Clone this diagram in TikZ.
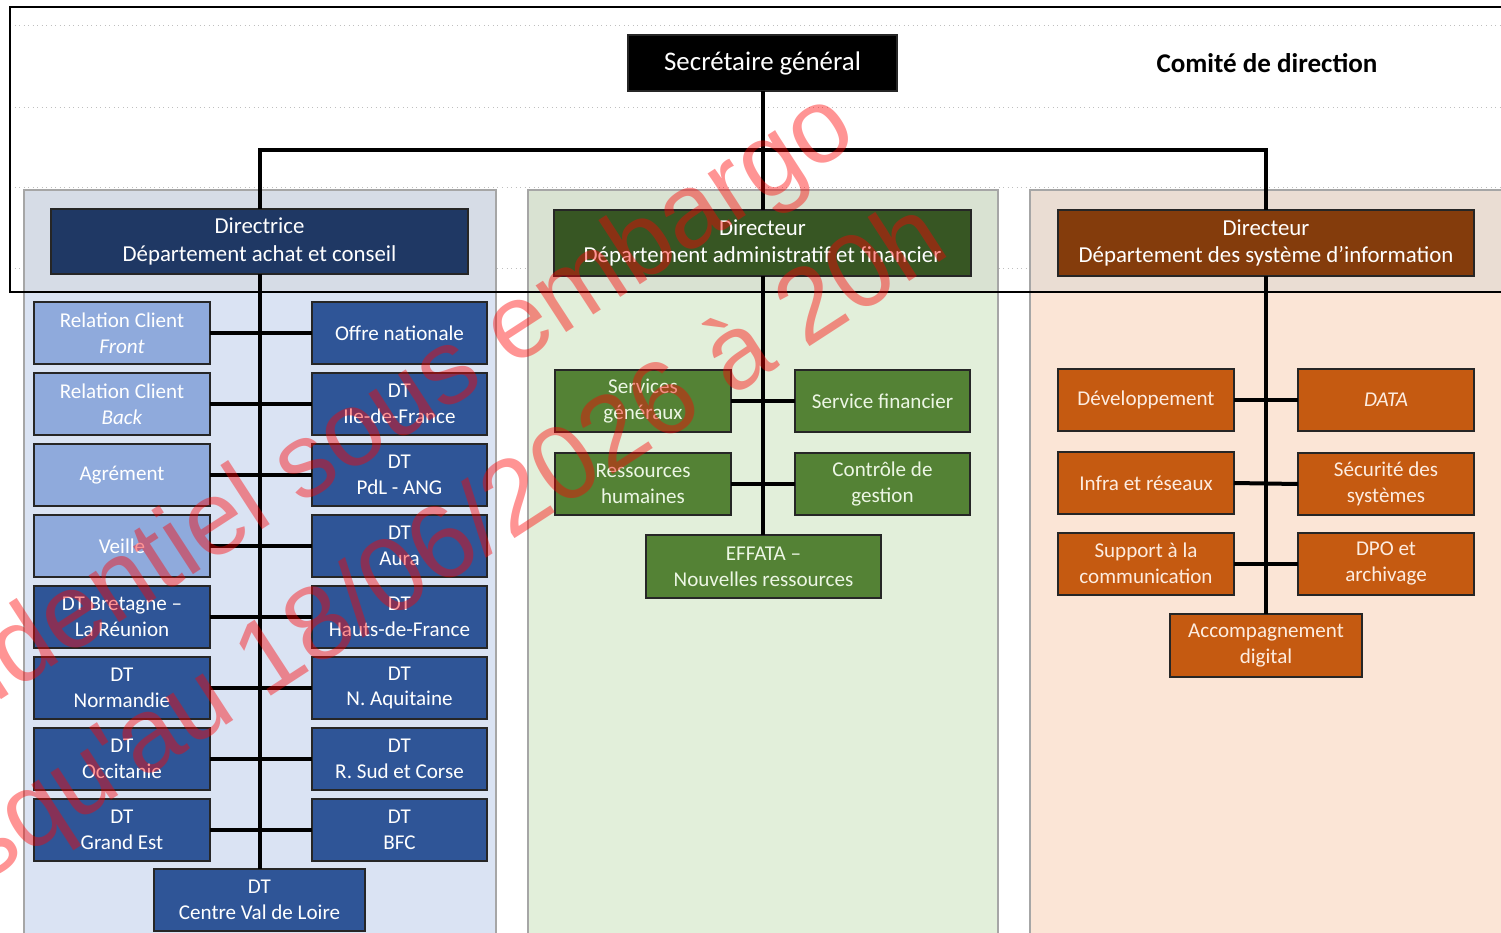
\documentclass[tikz,border=0pt]{standalone}
\usepackage{fontspec}
\setmainfont{Carlito}
\newfontfamily\wmfont{Liberation Sans}
\usetikzlibrary{calc}

\definecolor{navy}{RGB}{31,56,100}
\definecolor{midblue}{RGB}{47,85,151}
\definecolor{lightblue}{RGB}{143,170,220}
\definecolor{darkgreen}{RGB}{55,86,35}
\definecolor{midgreen}{RGB}{84,130,53}
\definecolor{darkorange}{RGB}{132,60,12}
\definecolor{midorange}{RGB}{197,90,17}
\definecolor{greentext}{RGB}{236,246,228}
\definecolor{orangetext}{RGB}{253,236,224}
\definecolor{bluepanel}{RGB}{218,227,243}
\definecolor{bluepaneltop}{RGB}{214,220,230}
\definecolor{greenpanel}{RGB}{226,239,218}
\definecolor{greenpaneltop}{RGB}{217,226,210}
\definecolor{orangepanel}{RGB}{251,229,214}
\definecolor{orangepaneltop}{RGB}{234,221,211}

\tikzset{
	orgbox/.style={draw=black!85, line width=0.4mm, inner sep=0pt, outer sep=0pt, align=center,
		minimum width=3.52cm, minimum height=1.24cm, font=\fontsize{12}{14.6}\selectfont},
	lightunit/.style={orgbox, fill=lightblue, text=white},
	blueunit/.style={orgbox, fill=midblue, text=white},
	greenunit/.style={orgbox, fill=midgreen, text=greentext},
	orangeunit/.style={orgbox, fill=midorange, text=orangetext},
	dirbox/.style={orgbox, text=white, minimum width=8.34cm, minimum height=1.32cm,
		font=\fontsize{13}{15.9}\selectfont},
	wire/.style={line width=0.8mm},
	panel/.style={draw=black!35, line width=0.3mm},
	cellline/.style={draw=black!25, dotted, line width=0.2mm},
	stamp/.style={rotate=33, text=red, opacity=0.42, font=\wmfont\fontsize{60}{76}\selectfont}
}

\begin{document}
\begin{tikzpicture}[x=0.02cm, y=-0.02cm]
	%%%%% START %%%%%
	\useasboundingbox (0,0) rectangle (1501,933);
	\clip (0,0) rectangle (1501,933);
	
	\draw[cellline] (10,25) -- (1501,25);
	\draw[cellline] (10,107) -- (1501,107);
	\draw[cellline] (10,187) -- (1501,187);
	\draw[cellline] (10,268) -- (1501,268);
	
	% the three departments
	\fill[bluepanel] (24,292) rectangle (496,945);
	\fill[bluepaneltop] (24,190) rectangle (496,292);
	\draw[panel] (24,190) rectangle (496,945);
	\fill[greenpanel] (528,292) rectangle (998,945);
	\fill[greenpaneltop] (528,190) rectangle (998,292);
	\draw[panel] (528,190) rectangle (998,945);
	\fill[orangepanel] (1030,292) rectangle (1510,945);
	\fill[orangepaneltop] (1030,190) rectangle (1510,292);
	\draw[panel] (1030,190) rectangle (1510,945);
	
	\draw[line width=0.35mm] (1510,7) -- (10,7) -- (10,292) -- (1510,292);
	
	\node[orgbox, fill=black, text=white, minimum width=5.38cm, minimum height=1.12cm,
		font=\fontsize{15.3}{18}\selectfont] (sg) at (762.5,63) {Secrétaire général};
	\node[font=\bfseries\fontsize{15.4}{18}\selectfont] (comite) at (1267,63) {Comité de direction};
	
	\node[dirbox, fill=navy] (dirAC) at (259.5,241.5) {Directrice\\Département achat et conseil};
	\node[dirbox, fill=darkgreen] (dirAF) at (762.5,243) {Directeur\\Département administratif et financier};
	\node[dirbox, fill=darkorange] (dirSI) at (1266,243) {Directeur\\Département des système d’information};
	
	\coordinate (bus) at (762.5,150);
	\draw[wire] (sg.south) -- (bus);
	\draw[wire] (dirAC.north) |- (bus) -| (dirSI.north);
	\draw[wire] (bus) -- (dirAF.north);
	
	% achat et conseil
	\node[lightunit] (front) at (122,333) {Relation Client\\\textit{Front}};
	\node[lightunit] (back) at (122,404) {Relation Client\\\textit{Back}};
	\node[lightunit] (agrement) at (122,475) {Agrément};
	\node[lightunit] (veille) at (122,546) {Veille};
	\node[blueunit] (bretagne) at (122,617) {DT Bretagne --\\La Réunion};
	\node[blueunit] (normandie) at (122,688) {DT\\Normandie};
	\node[blueunit] (occitanie) at (122,759) {DT\\Occitanie};
	\node[blueunit] (grandest) at (122,830) {DT\\Grand Est};
	\node[blueunit] (offre) at (399.5,333) {Offre nationale};
	\node[blueunit] (idf) at (399.5,404) {DT\\Ile-de-France};
	\node[blueunit] (pdl) at (399.5,475) {DT\\PdL - ANG};
	\node[blueunit] (aura) at (399.5,546) {DT\\Aura};
	\node[blueunit] (hdf) at (399.5,617) {DT\\Hauts-de-France};
	\node[blueunit] (naq) at (399.5,688) {DT\\N. Aquitaine};
	\node[blueunit] (sud) at (399.5,759) {DT\\R. Sud et Corse};
	\node[blueunit] (bfc) at (399.5,830) {DT\\BFC};
	\node[blueunit, minimum width=4.22cm] (cvl) at (259.5,900) {DT\\Centre Val de Loire};
	
	\draw[wire] (dirAC.south) -- (cvl.north);
	\draw[wire] (front.east) -- (offre.west);
	\draw[wire] (back.east) -- (idf.west);
	\draw[wire] (agrement.east) -- (pdl.west);
	\draw[wire] (veille.east) -- (aura.west);
	\draw[wire] (bretagne.east) -- (hdf.west);
	\draw[wire] (normandie.east) -- (naq.west);
	\draw[wire] (occitanie.east) -- (sud.west);
	\draw[wire] (grandest.east) -- (bfc.west);
	
	% administratif et financier
	\node[greenunit] (services) at (643,401) {Services\\généraux};
	\node[greenunit] (finance) at (882.5,401) {Service financier};
	\node[greenunit] (rh) at (643,484) {Ressources\\humaines};
	\node[greenunit] (cdg) at (882.5,484) {Contrôle de\\gestion};
	\node[greenunit, minimum width=4.7cm, minimum height=1.26cm] (effata) at (763.5,566.5) {EFFATA --\\Nouvelles ressources};
	
	\draw[wire] (dirAF.south) -- (dirAF.south |- effata.north);
	\draw[wire] (services.east) -- (finance.west);
	\draw[wire] (rh.east) -- (cdg.west);
	
	% systeme d'information
	\node[orangeunit] (dev) at (1146,400) {Développement};
	\node[orangeunit] (data) at (1386,400) {\textit{DATA}};
	\node[orangeunit] (infra) at (1146,483) {Infra et réseaux};
	\node[orangeunit] (secu) at (1386,484) {Sécurité des\\systèmes};
	\node[orangeunit] (support) at (1146,563.5) {Support à la\\communication};
	\node[orangeunit] (dpo) at (1386,563.5) {DPO et\\archivage};
	\node[orangeunit, minimum width=3.84cm, minimum height=1.26cm] (accomp) at (1266,645.5) {Accompagnement\\digital};
	
	\draw[wire] (dirSI.south) -- (accomp.north);
	\draw[wire] (dev.east) -- (data.west);
	\draw[wire] (infra.east) -- (secu.west);
	\draw[wire] (support.east) -- (dpo.west);
	
	\node[stamp] (embargoA) at (320,460) {Confidentiel sous embargo};
	\node[stamp] (embargoB) at (418,568) {jusqu'au 18/06/2026 à 20h};
	%%%%% END %%%%%
\end{tikzpicture}
\end{document}
